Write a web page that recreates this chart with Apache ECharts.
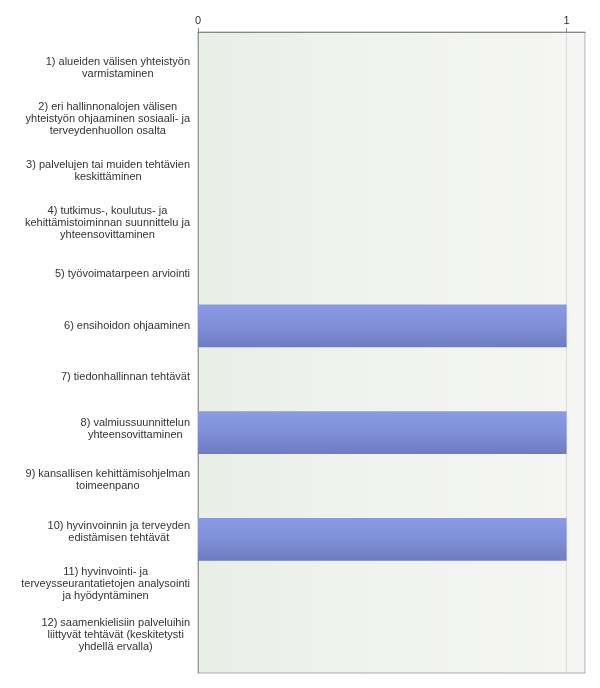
<!DOCTYPE html>
<html><head><meta charset="utf-8">
<script src="https://cdn.jsdelivr.net/npm/echarts@6/dist/echarts.min.js"></script>
<style>html,body{margin:0;padding:0;background:#fff}#c{width:600px;height:688px}</style>
</head><body><div id="c"></div>
<script>
const categories = [
  "1) alueiden välisen yhteistyön\nvarmistaminen",
  "2) eri hallinnonalojen välisen\nyhteistyön ohjaaminen sosiaali- ja\nterveydenhuollon osalta",
  "3) palvelujen tai muiden tehtävien\nkeskittäminen",
  "4) tutkimus-, koulutus- ja\nkehittämistoiminnan suunnittelu ja\nyhteensovittaminen",
  "5) työvoimatarpeen arviointi",
  "6) ensihoidon ohjaaminen",
  "7) tiedonhallinnan tehtävät",
  "8) valmiussuunnittelun\nyhteensovittaminen",
  "9) kansallisen kehittämisohjelman\ntoimeenpano",
  "10) hyvinvoinnin ja terveyden\nedistämisen tehtävät",
  "11) hyvinvointi- ja\nterveysseurantatietojen analysointi\nja hyödyntäminen",
  "12) saamenkielisiin palveluihin\nliittyvät tehtävät (keskitetysti\nyhdellä ervalla)"
];
const values = [0, 0, 0, 0, 0, 1, 0, 1, 0, 1, 0, 0];
const tickLabels = ["0", "1"];

const FONT = 'Liberation Sans, Arial, sans-serif';
const chart = echarts.init(document.getElementById('c'), null, {renderer: 'canvas'});
chart.setOption({
  animation: false,
  backgroundColor: '#fff',
  grid: [{
    left: 198, top: 32, right: 15, bottom: 15,
    show: true,
    borderColor: '#a8a8a8', borderWidth: 1,
    backgroundColor: new echarts.graphic.LinearGradient(0, 0, 1, 0, [
      {offset: 0, color: '#e9eee7'},
      {offset: 0.5, color: '#f1f3f0'},
      {offset: 1, color: '#f5f6f4'}
    ])
  }, {
    left: 198, top: 42, right: 15, bottom: 27, show: false
  }],
  xAxis: [{
    type: 'value', position: 'top', min: 0, max: 1.05, interval: 1,
    axisLine: {show: true, lineStyle: {color: '#888', width: 1}},
    axisTick: {show: true, length: 4, lineStyle: {color: '#888'}},
    axisLabel: {
      color: '#333', fontFamily: FONT, fontSize: 11, margin: 6,
      showMaxLabel: false,
      formatter: v => { const i = tickLabels.indexOf(String(v)); return i >= 0 ? tickLabels[i] : ''; }
    },
    splitLine: {show: true, lineStyle: {color: '#dcdcdc', width: 1}}
  }, {
    type: 'value', gridIndex: 1, min: 0, max: 1.05, show: false
  }],
  yAxis: [{
    type: 'category', inverse: true, data: categories,
    axisLine: {show: true, lineStyle: {color: '#999'}},
    axisTick: {show: false},
    axisLabel: {show: false}
  }, {
    type: 'category', gridIndex: 1, inverse: true, data: categories,
    axisLine: {show: false},
    axisTick: {show: false},
    splitLine: {show: false},
    axisLabel: {
      margin: 8, align: 'right',
      formatter: v => v.split('\n').map(s => '{c|' + s + '}').join('\n'),
      rich: {c: {align: 'center', color: '#333', fontFamily: FONT, fontSize: 11, lineHeight: 12}}
    }
  }],
  series: [{
    type: 'bar', data: values, barCategoryGap: '20%',
    xAxisIndex: 0, yAxisIndex: 0,
    itemStyle: {
      color: new echarts.graphic.LinearGradient(0, 0, 0, 1, [
        {offset: 0, color: '#8a9ae4'},
        {offset: 0.5, color: '#7f8fd8'},
        {offset: 1, color: '#6e7cbf'}
      ])
    }
  }]
});
</script></body></html>
